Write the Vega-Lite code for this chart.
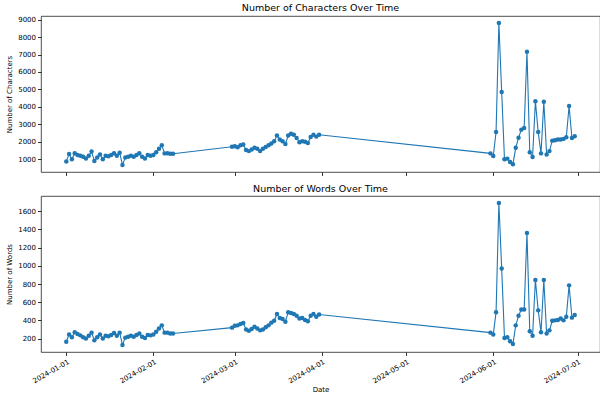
{
  "$schema": "https://vega.github.io/schema/vega-lite/v6.json",
  "padding": {"left": 5, "top": 2, "right": 1, "bottom": 2},
  "config": {
    "font": "DejaVu Sans",
    "view": {"stroke": "#222", "strokeWidth": 0.8},
    "axis": {"grid": false, "domain": false, "tickColor": "#000", "tickSize": 3.5, "tickWidth": 0.8, "labelColor": "#000", "labelFontSize": 7, "titleFontSize": 7, "titleFontWeight": "normal", "titleColor": "#000", "labelPadding": 2},
    "title": {"fontSize": 9.5, "fontWeight": "normal", "color": "#000", "offset": 3}
  },
  "spacing": 6,
  "data": {"values": [
    {"date": "2024-01-01", "chars": 880, "words": 165},
    {"date": "2024-01-02", "chars": 1300, "words": 245},
    {"date": "2024-01-03", "chars": 1000, "words": 215},
    {"date": "2024-01-04", "chars": 1350, "words": 270},
    {"date": "2024-01-05", "chars": 1250, "words": 250},
    {"date": "2024-01-06", "chars": 1200, "words": 235},
    {"date": "2024-01-07", "chars": 1150, "words": 215},
    {"date": "2024-01-08", "chars": 1050, "words": 200},
    {"date": "2024-01-09", "chars": 1200, "words": 230},
    {"date": "2024-01-10", "chars": 1450, "words": 265},
    {"date": "2024-01-11", "chars": 900, "words": 180},
    {"date": "2024-01-12", "chars": 1100, "words": 215},
    {"date": "2024-01-13", "chars": 1280, "words": 245},
    {"date": "2024-01-14", "chars": 1000, "words": 200},
    {"date": "2024-01-15", "chars": 1200, "words": 230},
    {"date": "2024-01-16", "chars": 1180, "words": 225},
    {"date": "2024-01-17", "chars": 1250, "words": 240},
    {"date": "2024-01-18", "chars": 1350, "words": 260},
    {"date": "2024-01-19", "chars": 1200, "words": 230},
    {"date": "2024-01-20", "chars": 1380, "words": 265},
    {"date": "2024-01-21", "chars": 680, "words": 130},
    {"date": "2024-01-22", "chars": 1100, "words": 210},
    {"date": "2024-01-23", "chars": 1150, "words": 220},
    {"date": "2024-01-24", "chars": 1200, "words": 230},
    {"date": "2024-01-25", "chars": 1150, "words": 220},
    {"date": "2024-01-26", "chars": 1250, "words": 240},
    {"date": "2024-01-27", "chars": 1350, "words": 255},
    {"date": "2024-01-28", "chars": 1150, "words": 220},
    {"date": "2024-01-29", "chars": 1050, "words": 205},
    {"date": "2024-01-30", "chars": 1250, "words": 240},
    {"date": "2024-01-31", "chars": 1200, "words": 235},
    {"date": "2024-02-01", "chars": 1250, "words": 245},
    {"date": "2024-02-02", "chars": 1400, "words": 275},
    {"date": "2024-02-03", "chars": 1600, "words": 310},
    {"date": "2024-02-04", "chars": 1800, "words": 345},
    {"date": "2024-02-05", "chars": 1340, "words": 265},
    {"date": "2024-02-06", "chars": 1350, "words": 265},
    {"date": "2024-02-07", "chars": 1320, "words": 255},
    {"date": "2024-02-08", "chars": 1320, "words": 255},
    {"date": "2024-02-29", "chars": 1720, "words": 320},
    {"date": "2024-03-01", "chars": 1750, "words": 340},
    {"date": "2024-03-02", "chars": 1690, "words": 345},
    {"date": "2024-03-03", "chars": 1800, "words": 360},
    {"date": "2024-03-04", "chars": 1850, "words": 370},
    {"date": "2024-03-05", "chars": 1530, "words": 300},
    {"date": "2024-03-06", "chars": 1470, "words": 285},
    {"date": "2024-03-07", "chars": 1560, "words": 305},
    {"date": "2024-03-08", "chars": 1660, "words": 330},
    {"date": "2024-03-09", "chars": 1600, "words": 310},
    {"date": "2024-03-10", "chars": 1470, "words": 290},
    {"date": "2024-03-11", "chars": 1600, "words": 300},
    {"date": "2024-03-12", "chars": 1700, "words": 325},
    {"date": "2024-03-13", "chars": 1810, "words": 345},
    {"date": "2024-03-14", "chars": 1900, "words": 375},
    {"date": "2024-03-15", "chars": 2040, "words": 395},
    {"date": "2024-03-16", "chars": 2360, "words": 470},
    {"date": "2024-03-17", "chars": 2130, "words": 425},
    {"date": "2024-03-18", "chars": 2040, "words": 415},
    {"date": "2024-03-19", "chars": 1880, "words": 385},
    {"date": "2024-03-20", "chars": 2360, "words": 490},
    {"date": "2024-03-21", "chars": 2470, "words": 480},
    {"date": "2024-03-22", "chars": 2410, "words": 470},
    {"date": "2024-03-23", "chars": 2220, "words": 450},
    {"date": "2024-03-24", "chars": 1980, "words": 420},
    {"date": "2024-03-25", "chars": 2040, "words": 425},
    {"date": "2024-03-26", "chars": 2000, "words": 405},
    {"date": "2024-03-27", "chars": 1940, "words": 390},
    {"date": "2024-03-28", "chars": 2280, "words": 450},
    {"date": "2024-03-29", "chars": 2410, "words": 470},
    {"date": "2024-03-30", "chars": 2300, "words": 440},
    {"date": "2024-03-31", "chars": 2410, "words": 465},
    {"date": "2024-05-31", "chars": 1340, "words": 265},
    {"date": "2024-06-01", "chars": 1190, "words": 245},
    {"date": "2024-06-02", "chars": 2560, "words": 490},
    {"date": "2024-06-03", "chars": 8800, "words": 1690},
    {"date": "2024-06-04", "chars": 4860, "words": 970},
    {"date": "2024-06-05", "chars": 1000, "words": 205},
    {"date": "2024-06-06", "chars": 1040, "words": 215},
    {"date": "2024-06-07", "chars": 850, "words": 170},
    {"date": "2024-06-08", "chars": 720, "words": 140},
    {"date": "2024-06-09", "chars": 1660, "words": 345},
    {"date": "2024-06-10", "chars": 2230, "words": 450},
    {"date": "2024-06-11", "chars": 2700, "words": 520},
    {"date": "2024-06-12", "chars": 2790, "words": 520},
    {"date": "2024-06-13", "chars": 7160, "words": 1360},
    {"date": "2024-06-14", "chars": 1410, "words": 280},
    {"date": "2024-06-15", "chars": 1130, "words": 230},
    {"date": "2024-06-16", "chars": 4330, "words": 845},
    {"date": "2024-06-17", "chars": 2560, "words": 510},
    {"date": "2024-06-18", "chars": 1340, "words": 270},
    {"date": "2024-06-19", "chars": 4300, "words": 845},
    {"date": "2024-06-20", "chars": 1280, "words": 255},
    {"date": "2024-06-21", "chars": 1470, "words": 290},
    {"date": "2024-06-22", "chars": 2070, "words": 395},
    {"date": "2024-06-23", "chars": 2090, "words": 400},
    {"date": "2024-06-24", "chars": 2130, "words": 405},
    {"date": "2024-06-25", "chars": 2130, "words": 420},
    {"date": "2024-06-26", "chars": 2170, "words": 400},
    {"date": "2024-06-27", "chars": 2260, "words": 440},
    {"date": "2024-06-28", "chars": 4050, "words": 785},
    {"date": "2024-06-29", "chars": 2220, "words": 430},
    {"date": "2024-06-30", "chars": 2320, "words": 460}
  ]},
  "vconcat": [
    {
      "title": "Number of Characters Over Time",
      "width": 559,
      "height": 156,
      "mark": {"type": "line", "color": "#1f77b4", "strokeWidth": 1.1, "point": {"filled": true, "size": 20, "color": "#1f77b4", "opacity": 1}},
      "encoding": {
        "x": {"field": "date", "type": "temporal",
          "scale": {"type": "utc", "domain": [{"year": 2023, "month": 12, "date": 23, "utc": true}, {"year": 2024, "month": 7, "date": 9, "utc": true}]},
          "axis": {"labels": false, "title": null,
            "values": [{"year": 2024, "month": 1, "date": 1, "utc": true}, {"year": 2024, "month": 2, "date": 1, "utc": true}, {"year": 2024, "month": 3, "date": 1, "utc": true}, {"year": 2024, "month": 4, "date": 1, "utc": true}, {"year": 2024, "month": 5, "date": 1, "utc": true}, {"year": 2024, "month": 6, "date": 1, "utc": true}, {"year": 2024, "month": 7, "date": 1, "utc": true}]}},
        "y": {"field": "chars", "type": "quantitative",
          "scale": {"domain": [274, 9206], "nice": false, "zero": false},
          "axis": {"title": "Number of Characters", "format": "d", "values": [1000, 2000, 3000, 4000, 5000, 6000, 7000, 8000, 9000], "titlePadding": 5}}
      }
    },
    {
      "title": "Number of Words Over Time",
      "width": 559,
      "height": 156,
      "mark": {"type": "line", "color": "#1f77b4", "strokeWidth": 1.1, "point": {"filled": true, "size": 20, "color": "#1f77b4", "opacity": 1}},
      "encoding": {
        "x": {"field": "date", "type": "temporal",
          "scale": {"type": "utc", "domain": [{"year": 2023, "month": 12, "date": 23, "utc": true}, {"year": 2024, "month": 7, "date": 9, "utc": true}]},
          "axis": {"title": "Date", "format": "%Y-%m-%d", "labelAngle": -30, "labelAlign": "right", "labelBaseline": "top", "titlePadding": 2,
            "values": [{"year": 2024, "month": 1, "date": 1, "utc": true}, {"year": 2024, "month": 2, "date": 1, "utc": true}, {"year": 2024, "month": 3, "date": 1, "utc": true}, {"year": 2024, "month": 4, "date": 1, "utc": true}, {"year": 2024, "month": 5, "date": 1, "utc": true}, {"year": 2024, "month": 6, "date": 1, "utc": true}, {"year": 2024, "month": 7, "date": 1, "utc": true}]}},
        "y": {"field": "words", "type": "quantitative",
          "scale": {"domain": [52, 1768], "nice": false, "zero": false},
          "axis": {"title": "Number of Words", "format": "d", "values": [200, 400, 600, 800, 1000, 1200, 1400, 1600], "titlePadding": 5}}
      }
    }
  ]
}
